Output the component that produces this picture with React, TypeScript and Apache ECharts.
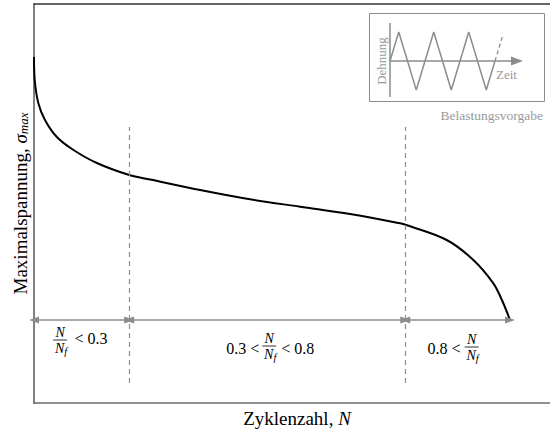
import React, { useEffect, useRef } from "react";
import * as echarts from "echarts";

// Normalised cycle number N/N_f and maximum stress (arbitrary units)
const cycleRatio = [0, 0.0015, 0.009, 0.023, 0.048, 0.083, 0.132, 0.2, 0.244, 0.349, 0.454, 0.559, 0.664, 0.769, 0.782, 0.867, 0.923, 0.965, 0.983, 1.0];
const maxStress = [346, 323, 300, 283, 266, 253, 240, 228, 223.5, 213, 203.7, 196.3, 189, 179.7, 178, 163, 143, 119.7, 103, 83];

// Phase boundaries (N/N_f positions as drawn)
const phaseBounds = [0, 0.2, 0.78, 1.0];
const arrowLevel = 83;
const dashedRange = [20, 276];

// Inset: strain schedule (triangle wave)
const waveX = [0, 1, 3, 5, 7, 9, 11, 12];
const waveY = [0, 1, -1, 1, -1, 1, -1, 0];
const waveDashX = [12, 12.9];
const waveDashY = [0, 0.9];

const GRAY = "#8c8c8c";
const SERIF = "'Liberation Serif', 'Times New Roman', serif";

export default function App() {
  const ref = useRef<HTMLDivElement>(null);
  useEffect(() => {
    if (!ref.current) return;
    const chart = echarts.init(ref.current, undefined, { renderer: "svg" });
    const xMax = 526 / 476;
    const pair = (xs: number[], ys: number[]) => xs.map((x, i) => [x, ys[i]]);

    const dashedLines = [phaseBounds[1], phaseBounds[2]].map((b) => [
      { coord: [b, dashedRange[0]] },
      { coord: [b, dashedRange[1]] },
    ]);
    const arrows = [0, 1, 2].map((i) => [
      { coord: [phaseBounds[i], arrowLevel] },
      { coord: [phaseBounds[i + 1], arrowLevel] },
    ]);

    chart.setOption({
      animation: false,
      grid: [
        { left: 34, top: 4, width: 526, height: 399, outerBoundsMode: "none", containLabel: false },
        { left: 390, top: 32, width: 113.75, height: 58, outerBoundsMode: "none", containLabel: false },
      ],
      xAxis: [
        {
          gridIndex: 0, type: "value", min: 0, max: xMax,
          axisLine: { show: true, lineStyle: { color: "#6a6a6a", width: 1.5 } },
          axisTick: { show: false }, axisLabel: { show: false }, splitLine: { show: false },
          name: "Zyklenzahl, {i|N}", nameLocation: "middle", nameGap: 6,
          nameTextStyle: {
            fontFamily: SERIF, fontSize: 19, color: "#000",
            rich: { i: { fontFamily: SERIF, fontSize: 19, fontStyle: "italic", color: "#000" } },
          },
        },
        {
          gridIndex: 0, type: "value", min: 0, max: xMax, position: "top",
          axisLine: { show: true, lineStyle: { color: "#333", width: 1.5 } },
          axisTick: { show: false }, axisLabel: { show: false }, splitLine: { show: false },
        },
        { gridIndex: 1, type: "value", min: 0, max: 13, show: false },
      ],
      yAxis: [
        {
          gridIndex: 0, type: "value", min: 0, max: 399,
          axisLine: { show: true, lineStyle: { color: "#808080", width: 2 } },
          axisTick: { show: false }, axisLabel: { show: false }, splitLine: { show: false },
          name: "Maximalspannung, {s|σ}{m|max}", nameLocation: "middle", nameGap: 4,
          nameTextStyle: {
            fontFamily: SERIF, fontSize: 19, color: "#000",
            rich: {
              s: { fontFamily: SERIF, fontSize: 19, fontStyle: "italic", color: "#000" },
              m: { fontFamily: SERIF, fontSize: 13, fontStyle: "italic", color: "#000", verticalAlign: "bottom", padding: [6, 0, 0, 0] },
            },
          },
        },
        { gridIndex: 1, type: "value", min: -1, max: 1, show: false },
      ],
      series: [
        {
          type: "line", xAxisIndex: 0, yAxisIndex: 0,
          data: pair(cycleRatio, maxStress),
          smooth: 0.35, showSymbol: false,
          lineStyle: { color: "#000", width: 2 },
          markLine: {
            silent: true, symbol: ["none", "none"], label: { show: false },
            lineStyle: { color: GRAY, type: [5, 4], width: 1.2 },
            data: dashedLines,
          },
        },
        {
          type: "line", xAxisIndex: 0, yAxisIndex: 0, data: [], showSymbol: false,
          markLine: {
            silent: true, symbol: ["triangle", "triangle"], symbolSize: [7, 10],
            label: { show: false },
            lineStyle: { color: GRAY, type: "solid", width: 1.5 },
            itemStyle: { color: GRAY },
            data: arrows,
          },
        },
        {
          type: "line", xAxisIndex: 2, yAxisIndex: 1,
          data: pair(waveX, waveY), showSymbol: false,
          lineStyle: { color: GRAY, width: 1.5 },
        },
        {
          type: "line", xAxisIndex: 2, yAxisIndex: 1,
          data: pair(waveDashX, waveDashY), showSymbol: false,
          lineStyle: { color: GRAY, width: 1.3, type: [4, 3] },
        },
      ],
    });

    const px = (x: number, y: number) => chart.convertToPixel({ gridIndex: 0 }, [x, y]) as number[];

    const frac = (cx: number, ly: number) => [
      { type: "text", style: { text: "N", x: cx, y: ly - 1, align: "center", verticalAlign: "bottom", font: `italic 14px ${SERIF}`, fill: "#000" } },
      { type: "line", shape: { x1: cx - 7, y1: ly, x2: cx + 7, y2: ly }, style: { stroke: "#000", lineWidth: 0.8 } },
      {
        type: "text",
        style: {
          text: "{n|N}{f|f}", x: cx + 1, y: ly + 1, align: "center", verticalAlign: "top",
          rich: {
            n: { font: `italic 14px ${SERIF}`, fill: "#000", verticalAlign: "top" },
            f: { font: `italic 10.5px ${SERIF}`, fill: "#000", padding: [5, 0, 0, 0] },
          },
        },
      },
    ];
    const txt = (s: string, x: number, y: number, align: string) => ({
      type: "text",
      style: { text: s, x, y, align, verticalAlign: "middle", font: `16px ${SERIF}`, fill: "#000" },
    });

    const m0 = px((phaseBounds[0] + phaseBounds[1]) / 2, arrowLevel);
    const m1 = px((phaseBounds[1] + phaseBounds[2]) / 2, arrowLevel);
    const m2 = px((phaseBounds[2] + phaseBounds[3]) / 2, arrowLevel);

    const labels = [
      ...frac(m0[0] - 21.5, m0[1] + 20),
      txt("< 0.3", m0[0] - 7, m0[1] + 18, "left"),
      txt("0.3 <", m1[0] - 8, m1[1] + 28, "right"),
      ...frac(m1[0] + 2, m1[1] + 26),
      txt("< 0.8", m1[0] + 14, m1[1] + 28, "left"),
      txt("0.8 <", m2[0] + 3, m2[1] + 28, "right"),
      ...frac(m2[0] + 14, m2[1] + 27),
    ];

    const inset = [
      { type: "rect", shape: { x: 369.5, y: 13.5, width: 175, height: 88 }, style: { fill: "none", stroke: GRAY, lineWidth: 1 } },
      { type: "line", shape: { x1: 390, y1: 23, x2: 390, y2: 97 }, style: { stroke: GRAY, lineWidth: 1.5 } },
      { type: "line", shape: { x1: 390, y1: 61, x2: 513, y2: 61 }, style: { stroke: GRAY, lineWidth: 1.5 } },
      { type: "polygon", shape: { points: [[511, 56.5], [523, 61], [511, 65.5]] }, style: { fill: GRAY } },
      { type: "text", x: 381, y: 61, rotation: Math.PI / 2, style: { text: "Dehnung", x: 0, y: 0, align: "center", verticalAlign: "middle", font: `13px ${SERIF}`, fill: "#999" } },
      { type: "text", style: { text: "Zeit", x: 496, y: 74, align: "left", verticalAlign: "middle", font: `13px ${SERIF}`, fill: "#999" } },
      { type: "text", style: { text: "Belastungsvorgabe", x: 543, y: 115, align: "right", verticalAlign: "middle", font: `13.5px ${SERIF}`, fill: "#999" } },
    ];

    chart.setOption({ graphic: [...inset, ...labels] });

    return () => chart.dispose();
  }, []);
  return <div ref={ref} style={{ width: 550, height: 432, position: "absolute", left: 0, top: 0 }} />;
}
